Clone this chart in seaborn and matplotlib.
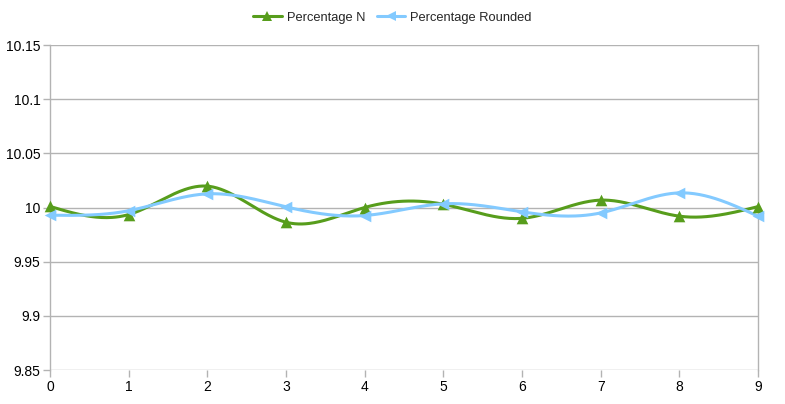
import numpy as np
import pandas as pd
import matplotlib
matplotlib.use("Agg")
import matplotlib.pyplot as plt
import seaborn as sns
from matplotlib.lines import Line2D

categories = [0, 1, 2, 3, 4, 5, 6, 7, 8, 9]
percentage_n = [10.001, 9.9935, 10.0197, 9.9864, 10.000, 10.003, 9.990, 10.0068, 9.992, 10.0008]
percentage_rounded = [9.9929, 9.997, 10.0126, 10.0006, 9.9926, 10.0034, 9.996, 9.995, 10.0135, 9.992]
y_ticks = [9.85, 9.9, 9.95, 10, 10.05, 10.1, 10.15]
y_tick_labels = ["9.85", "9.9", "9.95", "10", "10.05", "10.1", "10.15"]

GREEN = "#579d1c"
BLUE = "#83caff"
GRID = "#b3b3b3"


def natural_spline(x, y, n=400):
    x = np.asarray(x, float)
    y = np.asarray(y, float)
    k = len(x)
    h = np.diff(x)
    A = np.zeros((k, k))
    b = np.zeros(k)
    A[0, 0] = 1
    A[-1, -1] = 1
    for i in range(1, k - 1):
        A[i, i - 1] = h[i - 1]
        A[i, i] = 2 * (h[i - 1] + h[i])
        A[i, i + 1] = h[i]
        b[i] = 3 * ((y[i + 1] - y[i]) / h[i] - (y[i] - y[i - 1]) / h[i - 1])
    c = np.linalg.solve(A, b)
    xs = np.linspace(x[0], x[-1], n)
    ys = np.empty_like(xs)
    for j, xv in enumerate(xs):
        i = min(np.searchsorted(x, xv, side="right") - 1, k - 2)
        dx = xv - x[i]
        bb = (y[i + 1] - y[i]) / h[i] - h[i] * (2 * c[i] + c[i + 1]) / 3
        d = (c[i + 1] - c[i]) / (3 * h[i])
        ys[j] = y[i] + bb * dx + c[i] * dx ** 2 + d * dx ** 3
    return xs, ys


sns.set_style("white")
plt.rcParams["font.family"] = ["Liberation Sans", "DejaVu Sans"]

fig = plt.figure(figsize=(7.85, 4.04), dpi=100)
ax = fig.add_axes([50 / 785, 1 - 370 / 404, (758 - 50) / 785, (370 - 45) / 404])

series = [("Percentage N", percentage_n, GREEN, "^"),
          ("Percentage Rounded", percentage_rounded, BLUE, "<")]

for name, vals, col, mk in series:
    xs, ys = natural_spline(categories, vals)
    curve = pd.DataFrame({"x": xs, "y": ys})
    sns.lineplot(data=curve, x="x", y="y", ax=ax, color=col, linewidth=2.2, zorder=3)
    pts = pd.DataFrame({"x": categories, "y": vals})
    sns.scatterplot(data=pts, x="x", y="y", ax=ax, color=col, marker=mk, s=70,
                    edgecolor=col, linewidth=0, zorder=4, clip_on=False)

ax.set_xlim(0, 9)
ax.set_ylim(9.85, 10.15)
ax.set_xticks(categories)
ax.set_xticklabels([str(c) for c in categories])
ax.set_yticks(y_ticks)
ax.set_yticklabels(y_tick_labels)
ax.set_xlabel("")
ax.set_ylabel("")
ax.yaxis.grid(True, color=GRID, linewidth=1)
ax.xaxis.grid(False)
for side in ["top", "bottom"]:
    ax.spines[side].set_visible(False)
for side in ["left", "right"]:
    ax.spines[side].set_visible(True)
    ax.spines[side].set_color(GRID)
    ax.spines[side].set_linewidth(1)
ax.tick_params(axis="both", which="both", length=5, width=1, color=GRID,
               labelsize=10, labelcolor="black", direction="out")
ax.tick_params(axis="x", pad=2, bottom=True)
ax.tick_params(axis="y", pad=2, left=True)
ax.set_axisbelow(True)

handles = [Line2D([0], [0], color=c, lw=2.2, marker=m, markersize=7,
                  markeredgewidth=0) for _, _, c, m in series]
fig.legend(handles, [s[0] for s in series], loc="center", bbox_to_anchor=(0.5, 1 - 18 / 404),
           ncol=2, frameon=False, fontsize=9.3, handlelength=2.2, columnspacing=0.9,
           handletextpad=0.4)

fig.savefig("out.png", dpi=100)
